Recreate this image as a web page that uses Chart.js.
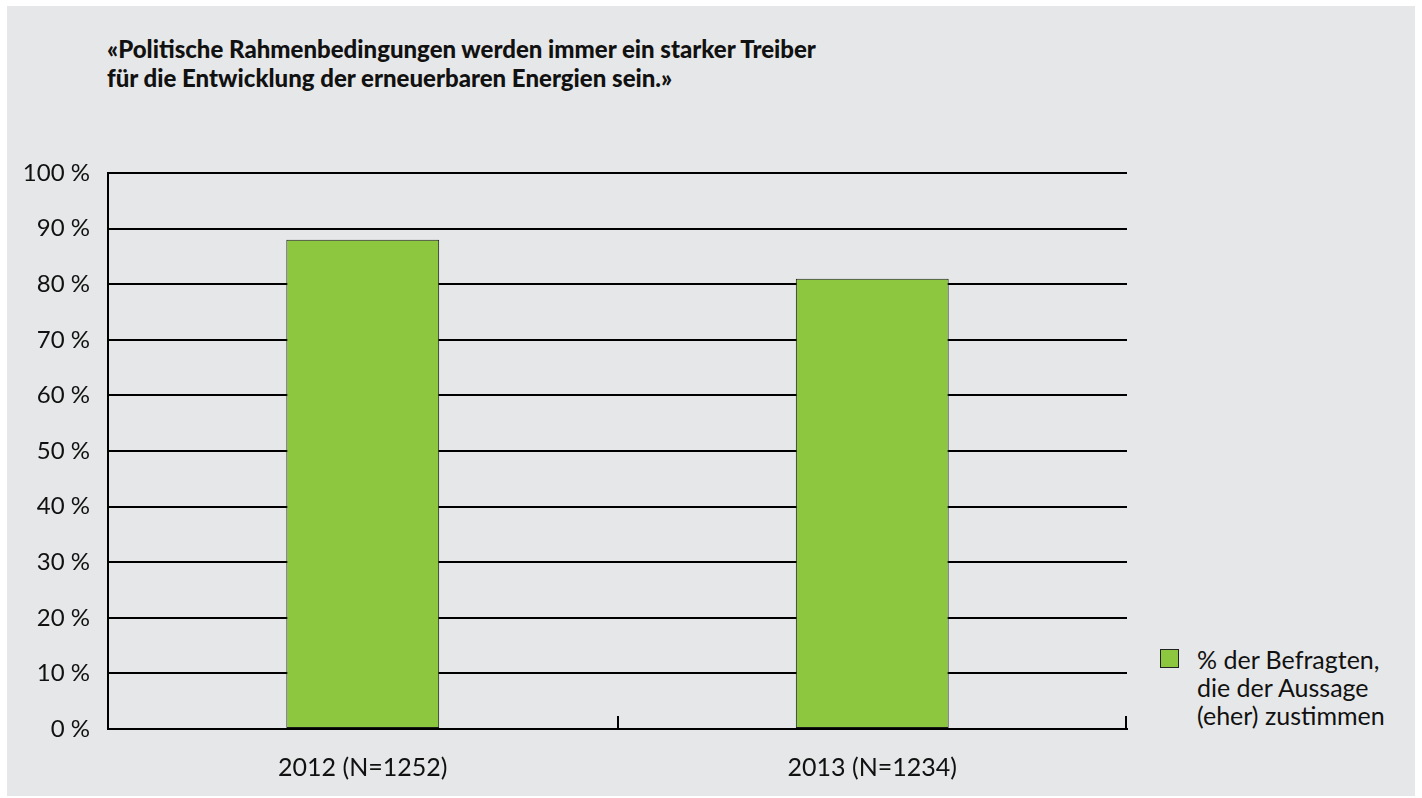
<!DOCTYPE html>
<html>
<head>
<meta charset="utf-8">
<script src="https://cdn.jsdelivr.net/npm/chart.js@4/dist/chart.umd.min.js"></script>
<style>
  body { margin: 0; background: #fff; font-family: Lato, "Open Sans", sans-serif; overflow: hidden; }
  #panel { position: absolute; left: 7px; top: 6px; width: 1408px; height: 790px; background: #e6e7e8; }
  #title { position: absolute; left: 107px; top: 34px; font-weight: 900; font-size: 24px; line-height: 29px; color: #111; white-space: nowrap; }
  #chart { position: absolute; left: 0; top: 140px; }
  #legend { position: absolute; left: 1160px; top: 645px; font-size: 25px; line-height: 28px; color: #111; }
  #legend .box { position: absolute; left: 0; top: 4px; width: 17px; height: 17px; background: #8dc63f; border: 1px solid #222; }
  #legend .txt { position: absolute; left: 37px; top: 0; white-space: nowrap; }
</style>
</head>
<body>
<div id="panel"></div>
<div id="title">«Politische Rahmenbedingungen werden immer ein starker Treiber<br>für die Entwicklung der erneuerbaren Energien sein.»</div>
<canvas id="chart" width="1150" height="650"></canvas>
<div id="legend"><div class="box"></div><div class="txt" id="legendText"></div></div>
<script>
const categories = ["2012 (N=1252)", "2013 (N=1234)"];
const agreeValues = [88, 81];
const seriesLabel = ["% der Befragten,", "die der Aussage", "(eher) zustimmen"];
const yTicks = [0, 10, 20, 30, 40, 50, 60, 70, 80, 90, 100];

const barColor = "#8dc63f";
const fontFamily = "Lato, 'Open Sans', sans-serif";

document.getElementById("legendText").innerHTML = seriesLabel.join("<br>");

// small upward ticks between categories on the x axis
const categoryTicks = {
  id: "categoryTicks",
  afterDraw(chart) {
    const xs = chart.scales.x;
    const ctx = chart.ctx;
    const n = xs.getLabels().length;
    const step = (xs.right - xs.left) / n;
    const y0 = chart.chartArea.bottom;
    ctx.save();
    ctx.strokeStyle = "#000";
    ctx.lineWidth = 2;
    for (let i = 1; i <= n; i++) {
      const x = Math.round(xs.left + i * step) - (i === n ? 1 : 0);
      ctx.beginPath();
      ctx.moveTo(x, y0);
      ctx.lineTo(x, y0 - 13);
      ctx.stroke();
    }
    ctx.restore();
  }
};

new Chart(document.getElementById("chart").getContext("2d"), {
  type: "bar",
  data: {
    labels: categories,
    datasets: [{
      label: seriesLabel.join(" "),
      data: agreeValues,
      backgroundColor: barColor,
      borderColor: "#1a1a1a",
      borderWidth: 1,
      borderSkipped: false,
      barPercentage: 0.3,
      categoryPercentage: 1,
    }],
  },
  options: {
    responsive: false,
    animation: false,
    layout: { padding: { top: 33, right: 23, bottom: 4, left: 0 } },
    plugins: {
      legend: { display: false },
      tooltip: { enabled: false },
    },
    scales: {
      y: {
        min: 0,
        max: 100,
        afterBuildTicks(scale) {
          scale.ticks = yTicks.map(v => ({ value: v }));
        },
        afterFit(scale) {
          scale.width = 108;
        },
        grid: { color: "#000", lineWidth: 2, drawTicks: false },
        border: { display: true, color: "#000", width: 2 },
        ticks: {
          padding: 18,
          color: "#111",
          font: { family: fontFamily, size: 24 },
          callback: v => v + " %",
        },
      },
      x: {
        afterFit(scale) {
          scale.height = 57;
        },
        grid: { display: false, drawTicks: false },
        border: { display: true, color: "#000", width: 2 },
        ticks: {
          padding: 24,
          maxRotation: 0,
          color: "#111",
          font: { family: fontFamily, size: 25 },
        },
      },
    },
  },
  plugins: [categoryTicks],
});
</script>
</body>
</html>
